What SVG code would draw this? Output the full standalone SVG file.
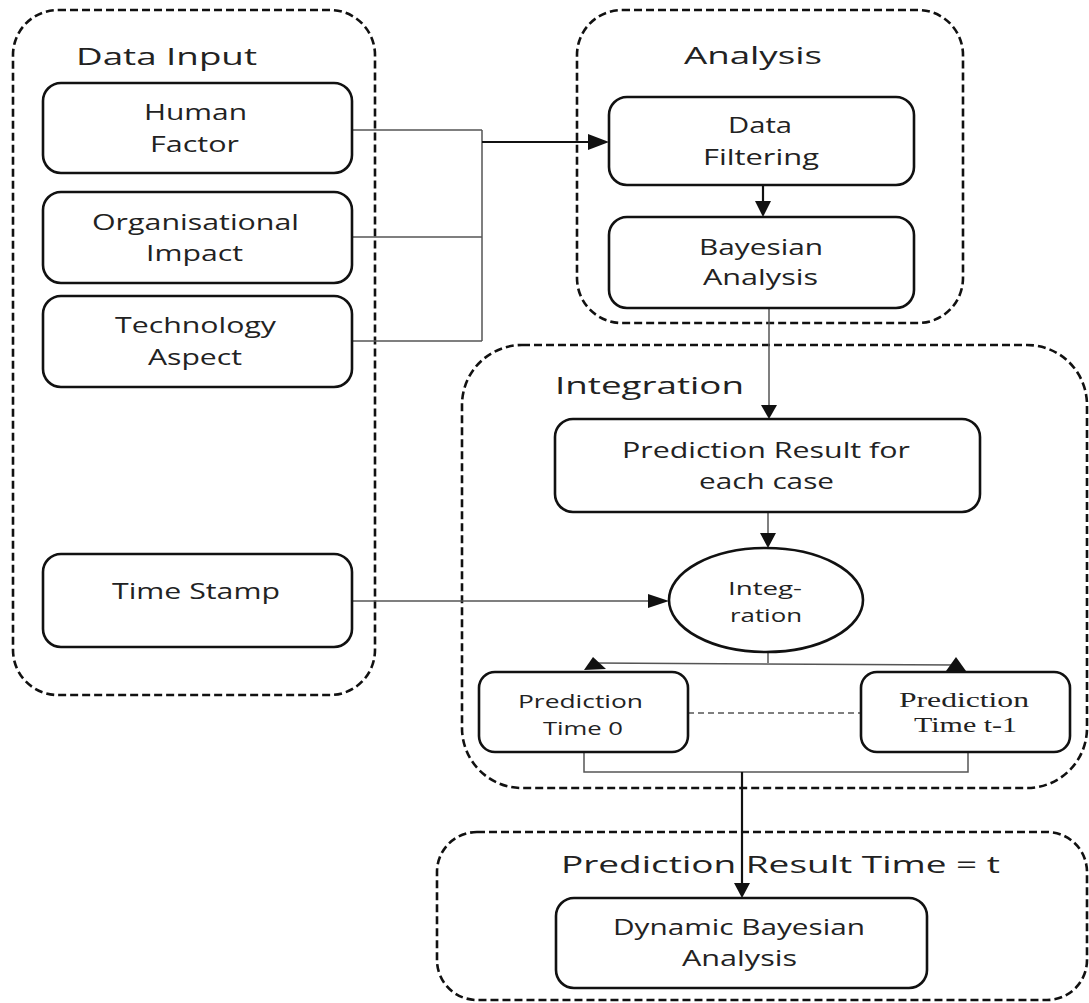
<svg xmlns="http://www.w3.org/2000/svg" width="1089" height="1003" viewBox="0 0 1089 1003">
<style>
.cont{fill:none;stroke:#111;stroke-width:2.6;stroke-dasharray:8 4}
.box{fill:#fff;stroke:#111;stroke-width:2.6}
.t{font-family:"Open Sans","Liberation Sans",sans-serif;fill:#222}
.title{font-size:24px}
.lbl{font-size:21px}
.sm{font-size:18px}
.serif{font-family:"Liberation Serif","Times New Roman",serif;font-size:20px;fill:#222}
.thin{fill:none;stroke:#555;stroke-width:1.5}
.thick{fill:none;stroke:#111;stroke-width:2.2}
.head{fill:#111;stroke:none}
</style>
<rect width="1089" height="1003" fill="#fff"/>

<g id="data-input">
<rect class="cont" x="13" y="10" width="362" height="685" rx="45"/>
<text class="t title" x="76" y="65" textLength="181" lengthAdjust="spacingAndGlyphs">Data Input</text>
</g>
<g id="analysis">
<rect class="cont" x="577" y="10" width="386" height="313" rx="45"/>
<text class="t title" x="684" y="64" textLength="138" lengthAdjust="spacingAndGlyphs">Analysis</text>
</g>
<g id="integration-group">
<rect class="cont" x="462" y="345" width="625" height="443" rx="60"/>
<text class="t title" x="555" y="394" textLength="189" lengthAdjust="spacingAndGlyphs">Integration</text>
</g>
<g id="result-group">
<rect class="cont" x="437" y="832" width="650" height="168" rx="40"/>
<text class="t title" x="561" y="873" textLength="439" lengthAdjust="spacingAndGlyphs">Prediction Result Time = t</text>
</g>

<g id="connectors">
<path class="thin" d="M352 130H482M352 237H482M352 341H482M482 130V341"/>
<path class="thick" d="M482 142H590"/>
<polygon class="head" points="588,134 609,142 588,150"/>
<path class="thick" d="M763 185V202"/>
<polygon class="head" points="755,201 771,201 763,217"/>
<path class="thin" d="M769 308V406"/>
<polygon class="head" points="761,405 777,405 769,419"/>
<path class="thin" d="M768 512V534"/>
<polygon class="head" points="760,533 776,533 768,548"/>
<path class="thin" d="M352 601H650"/>
<polygon class="head" points="648,594 669,601 648,608"/>
<path class="thin" d="M768 652V663M593 663L957 665"/>
<polygon class="head" points="593,657 584,670 606,669"/>
<polygon class="head" points="956,657 946,671 966,671"/>
<path class="thin" d="M688 713H861" stroke-dasharray="6 4"/>
<path class="thin" d="M584 752V772H968V752"/>
<path class="thick" d="M742 772V884"/>
<polygon class="head" points="734,883 750,883 742,898"/>
</g>

<g id="human-factor">
<rect class="box" x="43" y="83" width="309" height="90" rx="18"/>
<text class="t lbl" x="144" y="120" textLength="103" lengthAdjust="spacingAndGlyphs">Human</text>
<text class="t lbl" x="150" y="152" textLength="89" lengthAdjust="spacingAndGlyphs">Factor</text>
</g>
<g id="organisational-impact">
<rect class="box" x="43" y="192" width="309" height="91" rx="18"/>
<text class="t lbl" x="92" y="230" textLength="207" lengthAdjust="spacingAndGlyphs">Organisational</text>
<text class="t lbl" x="146" y="261" textLength="97" lengthAdjust="spacingAndGlyphs">Impact</text>
</g>
<g id="technology-aspect">
<rect class="box" x="43" y="296" width="309" height="91" rx="18"/>
<text class="t lbl" x="115" y="333" textLength="161" lengthAdjust="spacingAndGlyphs">Technology</text>
<text class="t lbl" x="148" y="365" textLength="94" lengthAdjust="spacingAndGlyphs">Aspect</text>
</g>
<g id="time-stamp">
<rect class="box" x="43" y="554" width="309" height="93" rx="18"/>
<text class="t lbl" x="112" y="599" textLength="168" lengthAdjust="spacingAndGlyphs">Time Stamp</text>
</g>
<g id="data-filtering">
<rect class="box" x="609" y="97" width="305" height="88" rx="18"/>
<text class="t lbl" x="728" y="133" textLength="64" lengthAdjust="spacingAndGlyphs">Data</text>
<text class="t lbl" x="703" y="165" textLength="116" lengthAdjust="spacingAndGlyphs">Filtering</text>
</g>
<g id="bayesian-analysis">
<rect class="box" x="609" y="217" width="305" height="91" rx="18"/>
<text class="t lbl" x="699" y="255" textLength="124" lengthAdjust="spacingAndGlyphs">Bayesian</text>
<text class="t lbl" x="703" y="285" textLength="115" lengthAdjust="spacingAndGlyphs">Analysis</text>
</g>
<g id="prediction-result-each">
<rect class="box" x="555" y="419" width="425" height="93" rx="18"/>
<text class="t lbl" x="622" y="458" textLength="288" lengthAdjust="spacingAndGlyphs">Prediction Result for</text>
<text class="t lbl" x="699" y="489" textLength="135" lengthAdjust="spacingAndGlyphs">each case</text>
</g>
<g id="integration">
<ellipse class="box" cx="766" cy="600" rx="97" ry="52"/>
<text class="t sm" x="728" y="595" textLength="74" lengthAdjust="spacingAndGlyphs">Integ-</text>
<text class="t sm" x="730" y="622" textLength="72" lengthAdjust="spacingAndGlyphs">ration</text>
</g>
<g id="prediction-time-0">
<rect class="box" x="479" y="672" width="209" height="80" rx="16"/>
<text class="t sm" x="518" y="708" textLength="125" lengthAdjust="spacingAndGlyphs">Prediction</text>
<text class="t sm" x="543" y="735" textLength="80" lengthAdjust="spacingAndGlyphs">Time 0</text>
</g>
<g id="prediction-time-t-1">
<rect class="box" x="861" y="672" width="209" height="80" rx="16"/>
<text class="serif" x="899" y="707" textLength="130" lengthAdjust="spacingAndGlyphs">Prediction</text>
<text class="serif" x="914" y="732" textLength="103" lengthAdjust="spacingAndGlyphs">Time t-1</text>
</g>
<g id="dynamic-bayesian">
<rect class="box" x="556" y="898" width="371" height="90" rx="18"/>
<text class="t lbl" x="613" y="935" textLength="252" lengthAdjust="spacingAndGlyphs">Dynamic Bayesian</text>
<text class="t lbl" x="682" y="966" textLength="115" lengthAdjust="spacingAndGlyphs">Analysis</text>
</g>
</svg>
